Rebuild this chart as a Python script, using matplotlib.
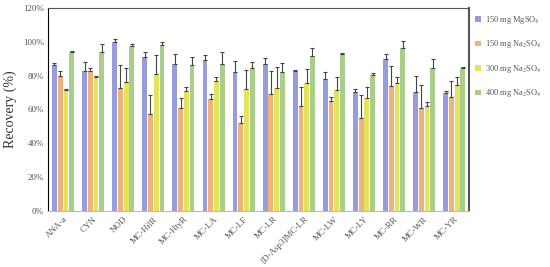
import matplotlib
matplotlib.use("Agg")
import matplotlib.pyplot as plt
import numpy as np

# Categorias e séries (recuperação, %)
categorias = ["ANA-a", "CYN", "NOD", "MC-HilR", "MC-HtyR", "MC-LA", "MC-LF", "MC-LR",
              "[D-Asp3]MC-LR", "MC-LW", "MC-LY", "MC-RR", "MC-WR", "MC-YR"]
series = [r"150 mg MgSO$_4$", r"150 mg Na$_2$SO$_4$", r"300 mg Na$_2$SO$_4$", r"400 mg Na$_2$SO$_4$"]

mgso4_150 = [86.3, 83.0, 99.7, 90.8, 86.7, 89.3, 82.4, 86.9, 83.0, 78.0, 70.1, 89.7, 70.5, 70.0]
na2so4_150 = [80.0, 83.0, 72.5, 57.3, 60.7, 66.0, 52.2, 69.0, 62.0, 65.2, 54.8, 73.9, 60.7, 67.2]
na2so4_300 = [71.5, 79.0, 76.5, 81.0, 71.1, 77.0, 71.9, 72.5, 75.5, 71.5, 66.6, 75.5, 62.0, 74.5]
na2so4_400 = [94.2, 94.2, 97.5, 98.1, 86.3, 86.9, 84.3, 82.0, 91.6, 92.8, 80.4, 96.2, 84.3, 84.3]

# Desvios (só a parte de cima aparece)
err_mg150 = [1.0, 5.0, 1.8, 3.4, 6.0, 3.0, 6.0, 3.3, 0.5, 4.3, 1.8, 3.1, 9.3, 1.1]
err_na150 = [2.8, 1.5, 13.8, 11.3, 6.0, 3.0, 4.0, 13.8, 11.0, 2.0, 13.8, 11.8, 13.8, 9.6]
err_na300 = [0.5, 0.5, 7.8, 11.2, 2.0, 2.4, 11.4, 12.8, 8.3, 7.5, 6.9, 3.5, 2.6, 4.5]
err_na400 = [0.5, 4.3, 1.0, 2.0, 5.0, 7.0, 3.5, 5.7, 4.5, 0.5, 1.0, 4.5, 5.3, 1.0]

valores = [mgso4_150, na2so4_150, na2so4_300, na2so4_400]
erros = [err_mg150, err_na150, err_na300, err_na400]
cores = ["#979CDC", "#EFB27C", "#E4E35E", "#A9CD8A"]

serif = ["Liberation Serif", "DejaVu Serif"]
plt.rcParams["mathtext.fontset"] = "stix"
cinza = "#555555"

fig = plt.figure(figsize=(5.5, 2.67), dpi=100)
ax = fig.add_axes([0.0873, 0.21, 0.766, 0.76])

x = np.arange(len(categorias))
largura = 0.16
passo = 0.19
for i, (v, e, c, s) in enumerate(zip(valores, erros, cores, series)):
    pos = x + (i - 1.5) * passo
    ax.bar(pos, v, width=largura, color=c, label=s,
           yerr=[np.zeros(len(e)), e], capsize=1.5,
           error_kw=dict(ecolor="#444444", elinewidth=0.8, capthick=0.8))

ax.set_xlim(-0.5, len(categorias) - 0.5)
ax.set_ylim(0, 120)
ax.set_yticks(range(0, 121, 20))
ax.set_yticklabels([f"{t}%" for t in range(0, 121, 20)], fontsize=6.5,
                   color=cinza, family=serif)
ax.set_xticks(x)
ax.set_xticklabels(categorias, rotation=45, ha="right", rotation_mode="anchor",
                   fontsize=6.5, color=cinza, family=serif)
ax.tick_params(axis="both", length=0, pad=3)
ax.set_ylabel("Recovery (%)", fontsize=10, color="#333333", family=serif, labelpad=4)

ax.spines["left"].set_color("black")
ax.spines["top"].set_color("#555555")
ax.spines["right"].set_color("#555555")
ax.spines["right"].set_linewidth(1.5)
ax.spines["bottom"].set_color("#BBBBBB")

ax.legend(loc="upper left", bbox_to_anchor=(1.0, 1.0), frameon=False,
          prop={"family": serif, "size": 6}, labelcolor=cinza, borderaxespad=0.3,
          handlelength=0.7, handleheight=0.7, labelspacing=1.5, handletextpad=0.5)

fig.savefig("out.png", dpi=100)
